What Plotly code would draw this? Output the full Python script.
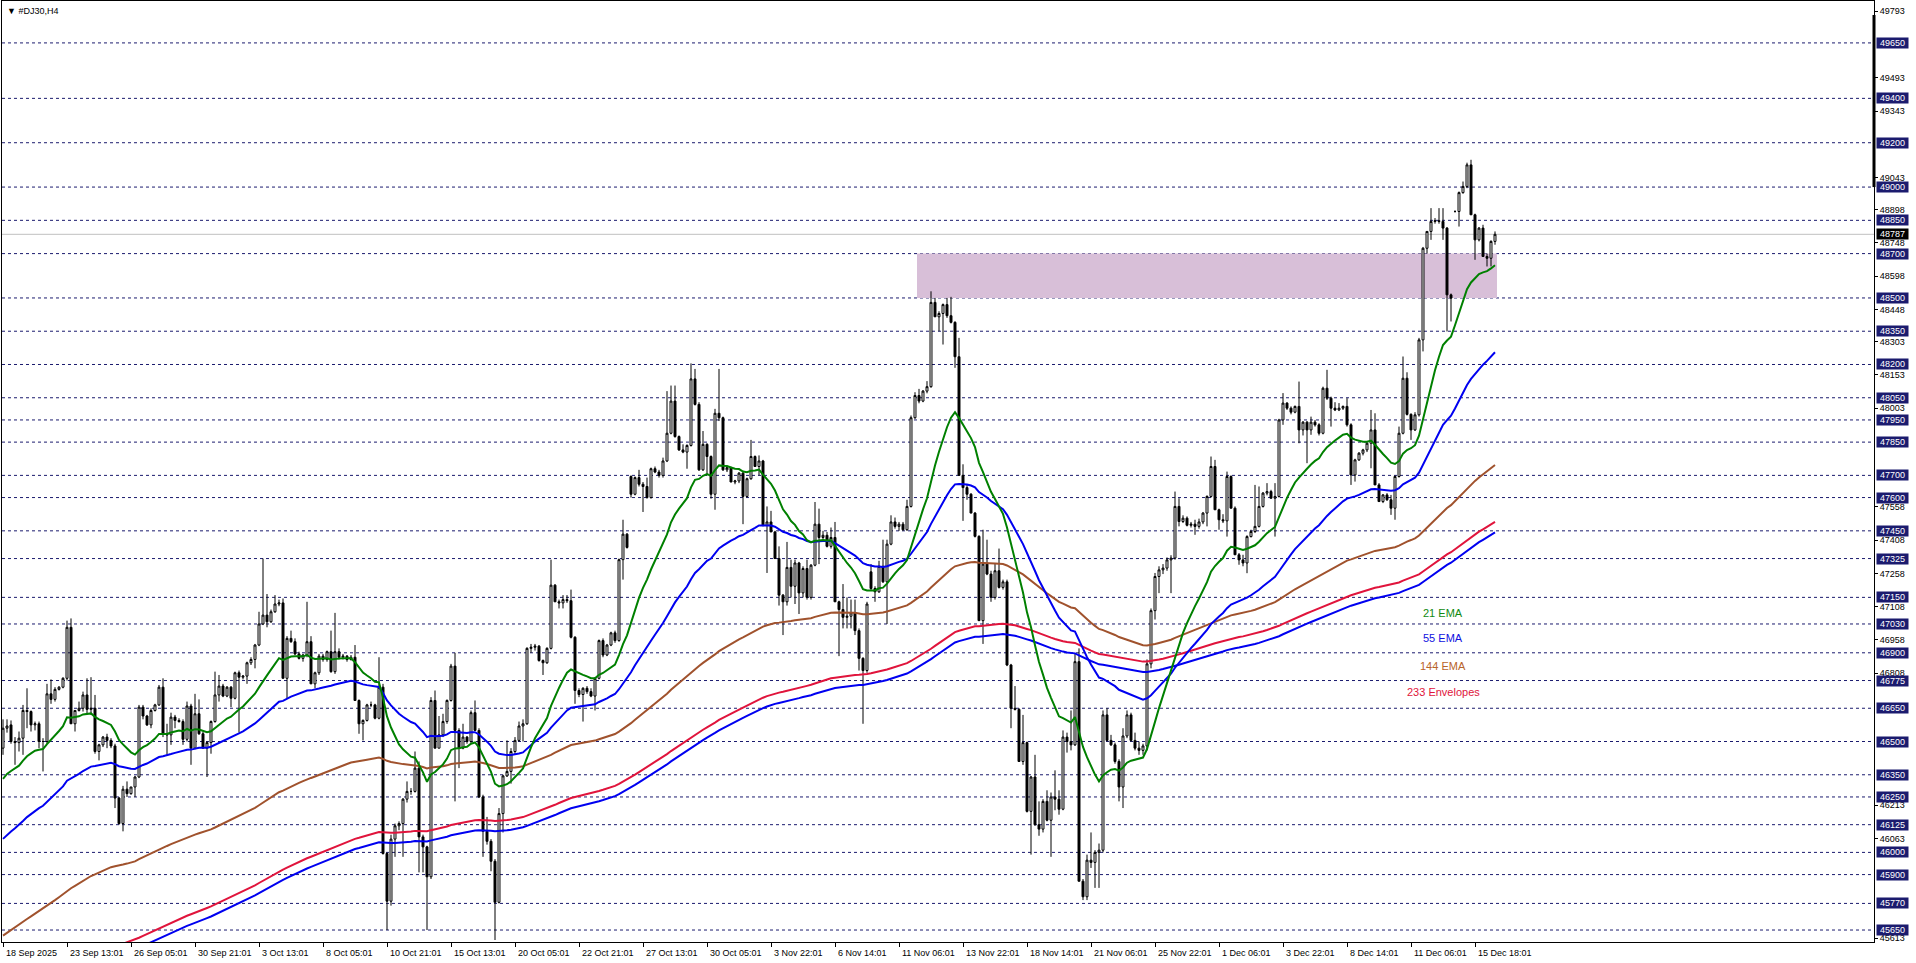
import plotly.graph_objects as go

# H4 candles (bar index 0 = 18 Sep 2025)
OPEN = [
    46470, 46560, 46575, 46500, 46495, 46515, 46640, 46635, 46575, 46580,
    46500, 46500, 46715, 46690, 46735, 46745, 46785, 47015, 46580, 46640,
    46650, 46710, 46645, 46650, 46455, 46485, 46520, 46505, 46480, 46245,
    46130, 46285, 46265, 46295, 46340, 46655, 46615, 46575, 46640, 46665,
    46745, 46535, 46530, 46610, 46595, 46590, 46510, 46660, 46470, 46625,
    46535, 46470, 46495, 46590, 46710, 46750, 46705, 46745, 46695, 46810,
    46790, 46795, 46855, 46870, 46935, 47030, 47070, 47040, 47085, 47120,
    47125, 46785, 46965, 46950, 46895, 46875, 46890, 46950, 46760, 46810,
    46885, 46870, 46905, 46815, 46905, 46880, 46885, 46870, 46880, 46685,
    46580, 46595, 46665, 46665, 46605, 46745, 45995, 45780, 46060, 46120,
    46130, 46240, 46275, 46275, 46380, 46070, 46025, 45890, 46685, 46470,
    46530, 46590, 46685, 46840, 46550, 46470, 46520, 46500, 46630, 46550,
    46250, 46095, 46050, 45960, 45775, 46175, 46345, 46365, 46455, 46505,
    46570, 46580, 46920, 46925, 46930, 46865, 46855, 46920, 47205, 47130,
    47125, 47140, 47135, 46970, 46730, 46712, 46740, 46725, 46705, 46785,
    46955, 46890, 46935, 46990, 46955, 47320, 47435, 47695, 47615, 47690,
    47660, 47650, 47600, 47730, 47715, 47700, 47765, 47890, 48035, 47875,
    47815, 47805, 47835, 48135, 48020, 47725, 47840, 47785, 47615, 47980,
    47960, 47725, 47735, 47670, 47675, 47710, 47605, 47685, 47785, 47740,
    47765, 47475, 47490, 47445, 47325, 47160, 47130, 47285, 47200, 47305,
    47170, 47280, 47150, 47295, 47480, 47420, 47430, 47380, 47420, 47130,
    47095, 47060, 47065, 47080, 47000, 46875, 46820, 47265, 47190, 47175,
    47290, 47220, 47390, 47490, 47470, 47480, 47455, 47560, 47960, 48060,
    48035, 48080, 48100, 48480, 48415, 48430, 48470, 48420, 48390, 48235,
    47700, 47645, 47615, 47530, 47425, 47045, 47300, 47255, 47150, 47270,
    47195, 47220, 46845, 46650, 46645, 46410, 46495, 46185, 46340, 46125,
    46105, 46230, 46145, 46250, 46240, 46195, 46520, 46500, 46485, 46860,
    45870, 45800, 45965, 45955, 46000, 46010, 46620, 46505, 46485, 46410,
    46295, 46525, 46620, 46505, 46470, 46460, 46480, 46850, 47090, 47244,
    47274, 47282, 47319, 47327, 47560, 47492, 47507, 47475, 47480, 47470,
    47490, 47530, 47605, 47740, 47545, 47500, 47495, 47695, 47552, 47342,
    47319, 47305, 47424, 47447, 47470, 47560, 47620, 47627, 47597, 47605,
    47950, 48026, 48003, 47985, 48011, 47905, 47940, 47905, 47940, 47928,
    47890, 48093, 48048, 48003, 47995, 48003, 48011, 47928, 47702, 47770,
    47800, 47815, 47845, 47905, 47657, 47582, 47612, 47590, 47552, 47695,
    47890, 48138, 47975, 47905, 47973, 48311, 48724, 48800, 48845, 48848,
    48845, 48815, 48514, 48890, 48890, 48975, 49003, 49100, 48875, 48762,
    48815, 48687, 48679, 48755,
]
HIGH = [
    46600, 46600, 46595, 46520, 46545, 46665, 46740, 46640, 46590, 46590,
    46515, 46760, 46780, 46745, 46750, 46790, 47045, 47055, 46640, 46680,
    46725, 46785, 46790, 46710, 46490, 46525, 46535, 46515, 46490, 46250,
    46300, 46320, 46295, 46345, 46665, 46665, 46620, 46650, 46670, 46755,
    46785, 46580, 46630, 46620, 46605, 46600, 46680, 46670, 46715, 46690,
    46545, 46500, 46595, 46815, 46800, 46760, 46750, 46750, 46815, 46820,
    46800, 46860, 46880, 46940, 47085, 47325, 47165, 47095, 47160, 47140,
    47145, 46975, 47000, 46965, 46905, 46895, 47130, 46975, 46815, 46895,
    46895, 46910, 47000, 47080, 46920, 46895, 46890, 46890, 46935, 46690,
    46600, 46670, 46680, 46670, 46880, 46760, 46000, 46080, 46130, 46140,
    46245, 46320, 46290, 46455, 46410, 46080, 46030, 46700, 46730, 46615,
    46625, 46690, 46850, 46900, 46560, 46580, 46525, 46640, 46685, 46560,
    46260, 46160, 46060, 45970, 46200, 46350, 46505, 46470, 46520, 46590,
    46600, 46925, 46940, 46940, 46935, 46870, 46925, 47320, 47210, 47140,
    47160, 47160, 47185, 46975, 46740, 46745, 46750, 46740, 46790, 46960,
    46965, 46940, 46995, 47000, 47325, 47500, 47440, 47700, 47695, 47725,
    47670, 47690, 47735, 47740, 47725, 47780, 48080, 48105, 48105, 47880,
    47840, 47840, 48205, 48180, 48030, 47900, 47845, 47790, 48000, 48180,
    47965, 47740, 47740, 47680, 47715, 47720, 47690, 47860, 47790, 47790,
    47770, 47560, 47540, 47450, 47380, 47165, 47400, 47320, 47320, 47310,
    47290, 47320, 47300, 47580, 47550, 47450, 47445, 47465, 47490, 47135,
    47210, 47150, 47140, 47140, 47010, 46880, 47130, 47300, 47200, 47315,
    47410, 47410, 47520, 47510, 47490, 47490, 47590, 47970, 48075, 48090,
    48085, 48125, 48530, 48500, 48440, 48475, 48500, 48505, 48395, 48320,
    47750, 47660, 47620, 47535, 47430, 47455, 47410, 47270, 47305, 47370,
    47230, 47230, 46850, 46750, 46650, 46620, 46500, 46345, 46440, 46230,
    46240, 46280, 46270, 46370, 46280, 46550, 46540, 46640, 46895, 46920,
    45880, 45990, 46090, 46010, 46040, 46640, 46650, 46530, 46495, 46420,
    46560, 46640, 46630, 46540, 46500, 46490, 46870, 47100, 47260, 47290,
    47300, 47330, 47340, 47627, 47597, 47520, 47515, 47490, 47500, 47505,
    47535, 47610, 47785, 47770, 47550, 47525, 47717, 47700, 47560, 47350,
    47342, 47430, 47455, 47657, 47650, 47625, 47665, 47635, 47665, 47955,
    48071, 48030, 48011, 48015, 48123, 47945, 47945, 47965, 47950, 47935,
    48100, 48176, 48055, 48030, 48026, 48015, 48048, 47935, 47775, 47805,
    47820, 47850, 47995, 47980, 47665, 47615, 47620, 47612, 47700, 47920,
    48236, 48165, 47980, 47985, 48320, 48730, 48800, 48905, 48860, 48905,
    48905, 48820, 48520, 48895, 48980, 49025, 49110, 49123, 48880, 48820,
    48830, 48700, 48760, 48800,
]
LOW = [
    46440, 46540, 46490, 46395, 46455, 46440, 46560, 46545, 46550, 46470,
    46365, 46490, 46670, 46680, 46730, 46740, 46775, 46580, 46545, 46635,
    46635, 46625, 46620, 46445, 46415, 46475, 46470, 46470, 46200, 46125,
    46095, 46250, 46260, 46250, 46335, 46600, 46570, 46560, 46635, 46660,
    46520, 46440, 46485, 46560, 46585, 46485, 46500, 46395, 46465, 46530,
    46470, 46340, 46445, 46585, 46680, 46700, 46700, 46655, 46690, 46540,
    46780, 46760, 46845, 46830, 46930, 47025, 47015, 47035, 47080, 47110,
    46785, 46695, 46945, 46890, 46870, 46860, 46880, 46760, 46740, 46800,
    46860, 46860, 46810, 46805, 46870, 46870, 46860, 46865, 46685, 46535,
    46505, 46590, 46655, 46600, 46600, 45990, 45650, 45760, 45980, 46100,
    45980, 46225, 46260, 46270, 45910, 45910, 45650, 45880, 46470, 46470,
    46520, 46580, 46680, 46230, 46380, 46465, 46490, 46490, 46550, 46245,
    45980, 46035, 45915, 45605, 45770, 46090, 46340, 46310, 46440, 46500,
    46500, 46575, 46900, 46910, 46860, 46800, 46850, 46915, 47130, 47100,
    47100, 47125, 46965, 46670, 46700, 46590, 46715, 46700, 46640, 46780,
    46880, 46885, 46930, 46945, 46950, 47230, 47370, 47600, 47610, 47650,
    47535, 47595, 47595, 47710, 47690, 47690, 47760, 47885, 47870, 47810,
    47800, 47730, 47830, 48015, 47720, 47720, 47700, 47595, 47545, 47945,
    47720, 47715, 47670, 47660, 47665, 47480, 47600, 47680, 47740, 47700,
    47470, 47260, 47445, 47325, 47113, 46980, 47113, 47150, 47120, 47075,
    47150, 47140, 47140, 47290, 47300, 47400, 47375, 47370, 47130, 46885,
    47010, 47010, 47010, 46980, 46820, 46580, 46810, 47180, 47130, 47170,
    47215, 47030, 47385, 47460, 47450, 47450, 47450, 47555, 47955, 48025,
    48030, 48070, 48095, 48415, 48350, 48290, 48410, 48385, 48185, 47700,
    47495, 47590, 47530, 47420, 47045, 46940, 47250, 47130, 47140, 47190,
    47185, 46840, 46560, 46640, 46410, 46395, 46180, 45990, 46120, 46075,
    46090, 46140, 45980, 46190, 46170, 46190, 46450, 46460, 46480, 45870,
    45785, 45785, 45930, 45840, 45840, 46000, 46500, 46480, 46400, 46230,
    46200, 46515, 46500, 46460, 46440, 46440, 46460, 46830, 47050, 47169,
    47255, 47270, 47169, 47320, 47470, 47485, 47470, 47465, 47432, 47460,
    47480, 47470, 47600, 47545, 47455, 47485, 47424, 47552, 47342, 47297,
    47290, 47259, 47420, 47440, 47465, 47555, 47610, 47595, 47424, 47600,
    47928, 47995, 47975, 47980, 47845, 47880, 47755, 47883, 47920, 47880,
    47885, 48040, 47920, 47990, 47990, 47995, 47920, 47657, 47672, 47765,
    47790, 47805, 47732, 47657, 47582, 47575, 47585, 47522, 47500, 47690,
    47885, 47970, 47860, 47900, 47965, 48259, 48700, 48762, 48835, 48835,
    48762, 48349, 48394, 48885, 48822, 48970, 48995, 48875, 48672, 48755,
    48687, 48642, 48642, 48740,
]
CLOSE = [
    46560, 46570, 46500, 46495, 46515, 46640, 46635, 46575, 46580, 46500,
    46500, 46715, 46690, 46735, 46745, 46785, 47015, 46580, 46640, 46650,
    46710, 46645, 46650, 46455, 46485, 46520, 46505, 46480, 46245, 46130,
    46285, 46265, 46295, 46340, 46655, 46615, 46575, 46640, 46665, 46745,
    46535, 46530, 46610, 46595, 46590, 46510, 46660, 46470, 46625, 46535,
    46470, 46495, 46590, 46710, 46750, 46705, 46745, 46695, 46810, 46790,
    46795, 46855, 46870, 46935, 47030, 47070, 47040, 47085, 47120, 47125,
    46785, 46965, 46950, 46895, 46875, 46890, 46950, 46760, 46810, 46885,
    46870, 46905, 46815, 46905, 46880, 46885, 46870, 46880, 46685, 46580,
    46595, 46665, 46665, 46605, 46745, 45995, 45780, 46060, 46120, 46130,
    46240, 46275, 46275, 46380, 46070, 46025, 45890, 46685, 46470, 46530,
    46590, 46685, 46840, 46550, 46470, 46520, 46500, 46630, 46550, 46250,
    46095, 46050, 45960, 45775, 46175, 46345, 46365, 46455, 46505, 46570,
    46580, 46920, 46925, 46930, 46865, 46855, 46920, 47205, 47130, 47125,
    47140, 47135, 46970, 46730, 46712, 46740, 46725, 46705, 46785, 46955,
    46890, 46935, 46990, 46955, 47320, 47435, 47375, 47615, 47690, 47660,
    47650, 47600, 47730, 47715, 47700, 47765, 47890, 48035, 47875, 47815,
    47805, 47835, 48135, 48020, 47725, 47840, 47785, 47615, 47980, 47960,
    47725, 47735, 47670, 47675, 47710, 47605, 47685, 47785, 47740, 47765,
    47475, 47490, 47445, 47325, 47160, 47130, 47285, 47200, 47305, 47170,
    47280, 47150, 47295, 47480, 47420, 47430, 47380, 47420, 47130, 47095,
    47060, 47065, 47080, 47000, 46875, 46820, 47120, 47190, 47175, 47290,
    47220, 47390, 47490, 47470, 47480, 47455, 47560, 47960, 48060, 48035,
    48080, 48100, 48480, 48415, 48430, 48470, 48420, 48390, 48235, 47700,
    47645, 47615, 47530, 47425, 47045, 47300, 47255, 47150, 47270, 47195,
    47220, 46845, 46650, 46645, 46410, 46495, 46185, 46340, 46125, 46105,
    46230, 46145, 46250, 46240, 46195, 46520, 46500, 46485, 46860, 45870,
    45800, 45965, 45955, 46000, 46010, 46620, 46505, 46485, 46410, 46295,
    46525, 46620, 46505, 46470, 46460, 46480, 46850, 47090, 47244, 47274,
    47282, 47319, 47327, 47560, 47492, 47507, 47475, 47480, 47470, 47490,
    47530, 47605, 47740, 47545, 47500, 47495, 47695, 47552, 47342, 47319,
    47305, 47424, 47447, 47470, 47560, 47620, 47627, 47597, 47605, 47950,
    48026, 48003, 47985, 48011, 47905, 47940, 47905, 47940, 47928, 47890,
    48093, 48048, 48003, 47995, 48003, 48011, 47928, 47702, 47770, 47800,
    47815, 47845, 47905, 47657, 47582, 47612, 47590, 47552, 47695, 47890,
    48138, 47975, 47905, 47973, 48311, 48724, 48800, 48845, 48848, 48845,
    48815, 48514, 48499, 48890, 48975, 49003, 49100, 48875, 48762, 48815,
    48687, 48679, 48755, 48787,
]

# time axis labels, one every 16 bars
TIME_LABELS = [
    "18 Sep 2025", "23 Sep 13:01", "26 Sep 05:01", "30 Sep 21:01", "3 Oct 13:01",
    "8 Oct 05:01", "10 Oct 21:01", "15 Oct 13:01", "20 Oct 05:01", "22 Oct 21:01",
    "27 Oct 13:01", "30 Oct 05:01", "3 Nov 22:01", "6 Nov 14:01", "11 Nov 06:01",
    "13 Nov 22:01", "18 Nov 14:01", "21 Nov 06:01", "25 Nov 22:01", "1 Dec 06:01",
    "3 Dec 22:01", "8 Dec 14:01", "11 Dec 06:01", "15 Dec 18:01",
]
LABEL_STEP = 16

# horizontal levels drawn on the chart (dashed, with navy price tags)
LEVELS = [
    49650, 49400, 49200, 49000, 48850, 48700, 48500, 48350, 48200, 48050,
    47950, 47850, 47700, 47600, 47450, 47325, 47150, 47030, 46900, 46775,
    46650, 46500, 46350, 46250, 46125, 46000, 45900, 45770, 45650,
]
# ordinary price scale labels
PRICE_TICKS = [
    49793, 49493, 49343, 49043, 48898, 48748, 48598, 48448, 48303, 48153,
    48003, 47558, 47408, 47258, 47108, 46958, 46808, 46213, 46063, 45613,
]
LAST_PRICE = 48787

# supply zone rectangle
ZONE_FROM, ZONE_TO = 229, 373
ZONE_LOW, ZONE_HIGH = 48500, 48700

# indicator starting values at the first visible bar
EMA_SEEDS = {21: 46332, 55: 46061, 144: 45625}
ENV_PERIOD, ENV_SEED, ENV_DEV = 233, 45270, 0.05

FONT = "Liberation Sans"
NAVY = "#1B1B6E"


def ema(values, period, seed):
    k = 2.0 / (period + 1)
    out = [seed]
    for v in values[1:]:
        out.append(out[-1] + k * (v - out[-1]))
    return out


n = len(CLOSE)
bars = list(range(n))

fig = go.Figure()
fig.add_trace(go.Candlestick(
    x=bars, open=OPEN, high=HIGH, low=LOW, close=CLOSE,
    increasing=dict(line=dict(color="black", width=1), fillcolor="white"),
    decreasing=dict(line=dict(color="black", width=1), fillcolor="black"),
    whiskerwidth=0, hoverinfo="skip",
))

env_mid = ema(CLOSE, ENV_PERIOD, ENV_SEED)
lines = [
    ([m * (1 + ENV_DEV / 100) for m in env_mid], "#E0143C"),
    ([m * (1 - ENV_DEV / 100) for m in env_mid], "#0000F0"),
    (ema(CLOSE, 144, EMA_SEEDS[144]), "#A0522D"),
    (ema(CLOSE, 55, EMA_SEEDS[55]), "#0000F0"),
    (ema(CLOSE, 21, EMA_SEEDS[21]), "#008000"),
]
for ys, col in lines:
    fig.add_trace(go.Scatter(x=bars, y=ys, mode="lines", line=dict(color=col, width=2),
                             hoverinfo="skip"))

shapes = [dict(type="rect", xref="x", yref="y", x0=ZONE_FROM - 0.5, x1=ZONE_TO + 0.5,
               y0=ZONE_LOW, y1=ZONE_HIGH, fillcolor="#D8BFD8", line=dict(width=0), layer="below")]
for lv in LEVELS:
    shapes.append(dict(type="line", xref="paper", yref="y", x0=0, x1=1, y0=lv, y1=lv,
                       line=dict(color=NAVY, width=1, dash="3px,3px"), layer="below"))
shapes.append(dict(type="line", xref="paper", yref="y", x0=0, x1=1, y0=LAST_PRICE, y1=LAST_PRICE,
                   line=dict(color="#C0C0C0", width=1), layer="below"))
shapes.append(dict(type="line", xref="paper", yref="y", x0=1, x1=1, y0=49000, y1=49776,
                   line=dict(color="black", width=3)))

annotations = []
for lv in LEVELS:
    annotations.append(dict(xref="paper", yref="y", x=1, y=lv, xanchor="left", xshift=2,
                            text=str(lv), showarrow=False, bgcolor=NAVY, width=31, height=10,
                            borderpad=0, font=dict(family=FONT, size=9, color="white")))
annotations.append(dict(xref="paper", yref="y", x=1, y=LAST_PRICE, xanchor="left", xshift=2,
                        text=str(LAST_PRICE), showarrow=False, bgcolor="black", width=31, height=10,
                        borderpad=0, font=dict(family=FONT, size=9, color="white")))
for k, lab in enumerate(TIME_LABELS):
    annotations.append(dict(xref="x", yref="paper", x=k * LABEL_STEP, y=0, xanchor="left",
                            yanchor="top", xshift=1, yshift=-4, text=lab, showarrow=False,
                            font=dict(family=FONT, size=9, color="black")))
annotations.append(dict(xref="paper", yref="paper", x=0, y=1, xanchor="left", yanchor="top",
                        xshift=3, yshift=-3, showarrow=False, text="▼ #DJ30,H4",
                        font=dict(family=FONT, size=9, color="black")))
legend_items = [("21 EMA", "#108A10", 47079), ("55 EMA", "#1010E0", 46967),
                ("144 EMA", "#B8642A", 46840), ("233 Envelopes", "#E0143C", 46723)]
for txt, col, yy in legend_items:
    annotations.append(dict(xref="paper", yref="y", x=0.7698, y=yy, xanchor="center",
                            text=txt, showarrow=False, font=dict(family=FONT, size=11, color=col)))

fig.update_layout(
    width=1916, height=963,
    margin=dict(l=2, r=42, t=1, b=21),
    paper_bgcolor="white", plot_bgcolor="white",
    showlegend=False,
    shapes=shapes, annotations=annotations,
    xaxis=dict(range=[-0.25, 467.75], showgrid=False, zeroline=False, showline=True,
               linecolor="black", linewidth=1, mirror=True, ticks="outside", ticklen=4,
               tickcolor="black", tickvals=[k * LABEL_STEP for k in range(len(TIME_LABELS))],
               showticklabels=False, rangeslider=dict(visible=False), fixedrange=True),
    yaxis=dict(side="right", range=[45596, 49839], showgrid=False, zeroline=False,
               showline=True, linecolor="black", linewidth=1, mirror=True, ticks="outside",
               ticklen=3, tickcolor="black", tickvals=PRICE_TICKS,
               ticktext=[str(v) for v in PRICE_TICKS],
               tickfont=dict(family=FONT, size=9, color="black"), fixedrange=True),
)

fig.write_html("out.html", config={"displayModeBar": False},
               post_script="document.body.style.margin='0';document.body.style.overflow='hidden';")
